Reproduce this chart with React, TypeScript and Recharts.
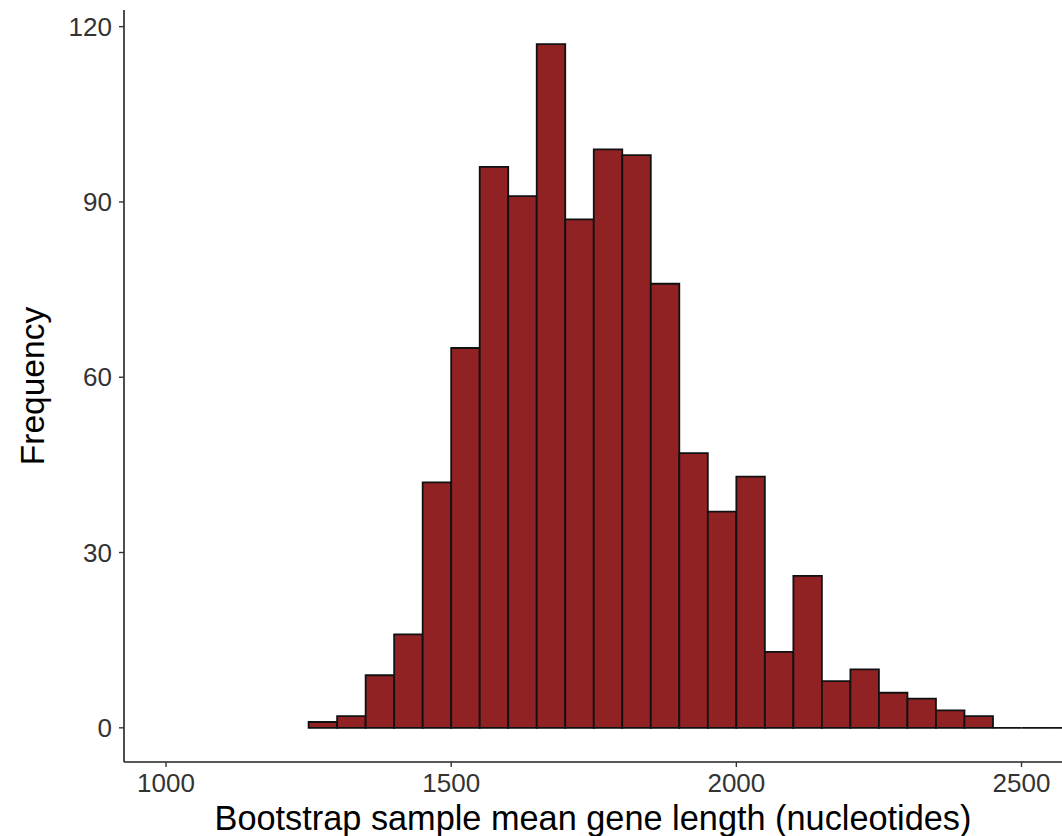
import { Bar, BarChart, Label, XAxis, YAxis } from 'recharts'

// histogram bins (left edge, width 50) and their counts
const binStarts = [
  1250, 1300, 1350, 1400, 1450, 1500, 1550, 1600, 1650, 1700, 1750, 1800, 1850, 1900, 1950, 2000, 2050, 2100,
  2150, 2200, 2250, 2300, 2350, 2400, 2450, 2500, 2550,
]
const counts = [1, 2, 9, 16, 42, 65, 96, 91, 117, 87, 99, 98, 76, 47, 37, 43, 13, 26, 8, 10, 6, 5, 3, 2, 0, 0, 0]
const binWidth = 50

const xTicks = [1000, 1500, 2000, 2500]
const yTicks = [0, 30, 60, 90, 120]

const data = binStarts.map((start, i) => ({ mid: start + binWidth / 2, count: counts[i] }))

const fontFamily = '"Liberation Sans", Arial, Helvetica, sans-serif'

// draws the bar as an open path so empty bins still show their outline
const HistBar = (props: any) => {
  const { x, y, width, height } = props
  const bottom = y + height
  const d = `M${x},${bottom} L${x},${y} L${x + width},${y} L${x + width},${bottom} Z`
  return <path d={d} fill="#912224" stroke="#111" strokeWidth={1.8} />
}

export default function App() {
  return (
    <div style={{ width: 1062, height: 836, background: '#fff' }}>
      <style>{'body{margin:0}'}</style>
      <BarChart width={1062} height={836} data={data} margin={{ top: 10, right: 0, bottom: 0, left: 0 }}>
        <XAxis
          dataKey="mid"
          type="number"
          domain={[926.3, 2571]}
          allowDataOverflow
          ticks={xTicks}
          height={74}
          tickSize={5}
          tickMargin={7}
          axisLine={{ stroke: '#222', strokeWidth: 1.6 }}
          tickLine={{ stroke: '#333', strokeWidth: 1.4 }}
          tick={{ fill: '#333', fontSize: 26, fontFamily }}
        >
          <Label
            value="Bootstrap sample mean gene length (nucleotides)"
            position="insideBottom"
            offset={6}
            style={{ fill: '#000', fontSize: 34.3, fontFamily }}
          />
        </XAxis>
        <YAxis
          type="number"
          domain={[-5.85, 122.85]}
          allowDataOverflow
          ticks={yTicks}
          width={124}
          tickSize={5}
          tickMargin={7}
          axisLine={{ stroke: '#222', strokeWidth: 1.6 }}
          tickLine={{ stroke: '#333', strokeWidth: 1.4 }}
          tick={{ fill: '#333', fontSize: 26, fontFamily }}
        >
          <Label
            content={(p: any) => {
              const vb = p.viewBox
              const cx = vb.x + 44
              const cy = vb.y + vb.height / 2
              return (
                <text
                  x={cx}
                  y={cy}
                  transform={`rotate(-90, ${cx}, ${cy})`}
                  textAnchor="middle"
                  fill="#000"
                  fontSize={33.5}
                  fontFamily={fontFamily}
                >
                  Frequency
                </text>
              )
            }}
          />
        </YAxis>
        <Bar dataKey="count" barSize={28.5} shape={HistBar} isAnimationActive={false} />
      </BarChart>
    </div>
  )
}
